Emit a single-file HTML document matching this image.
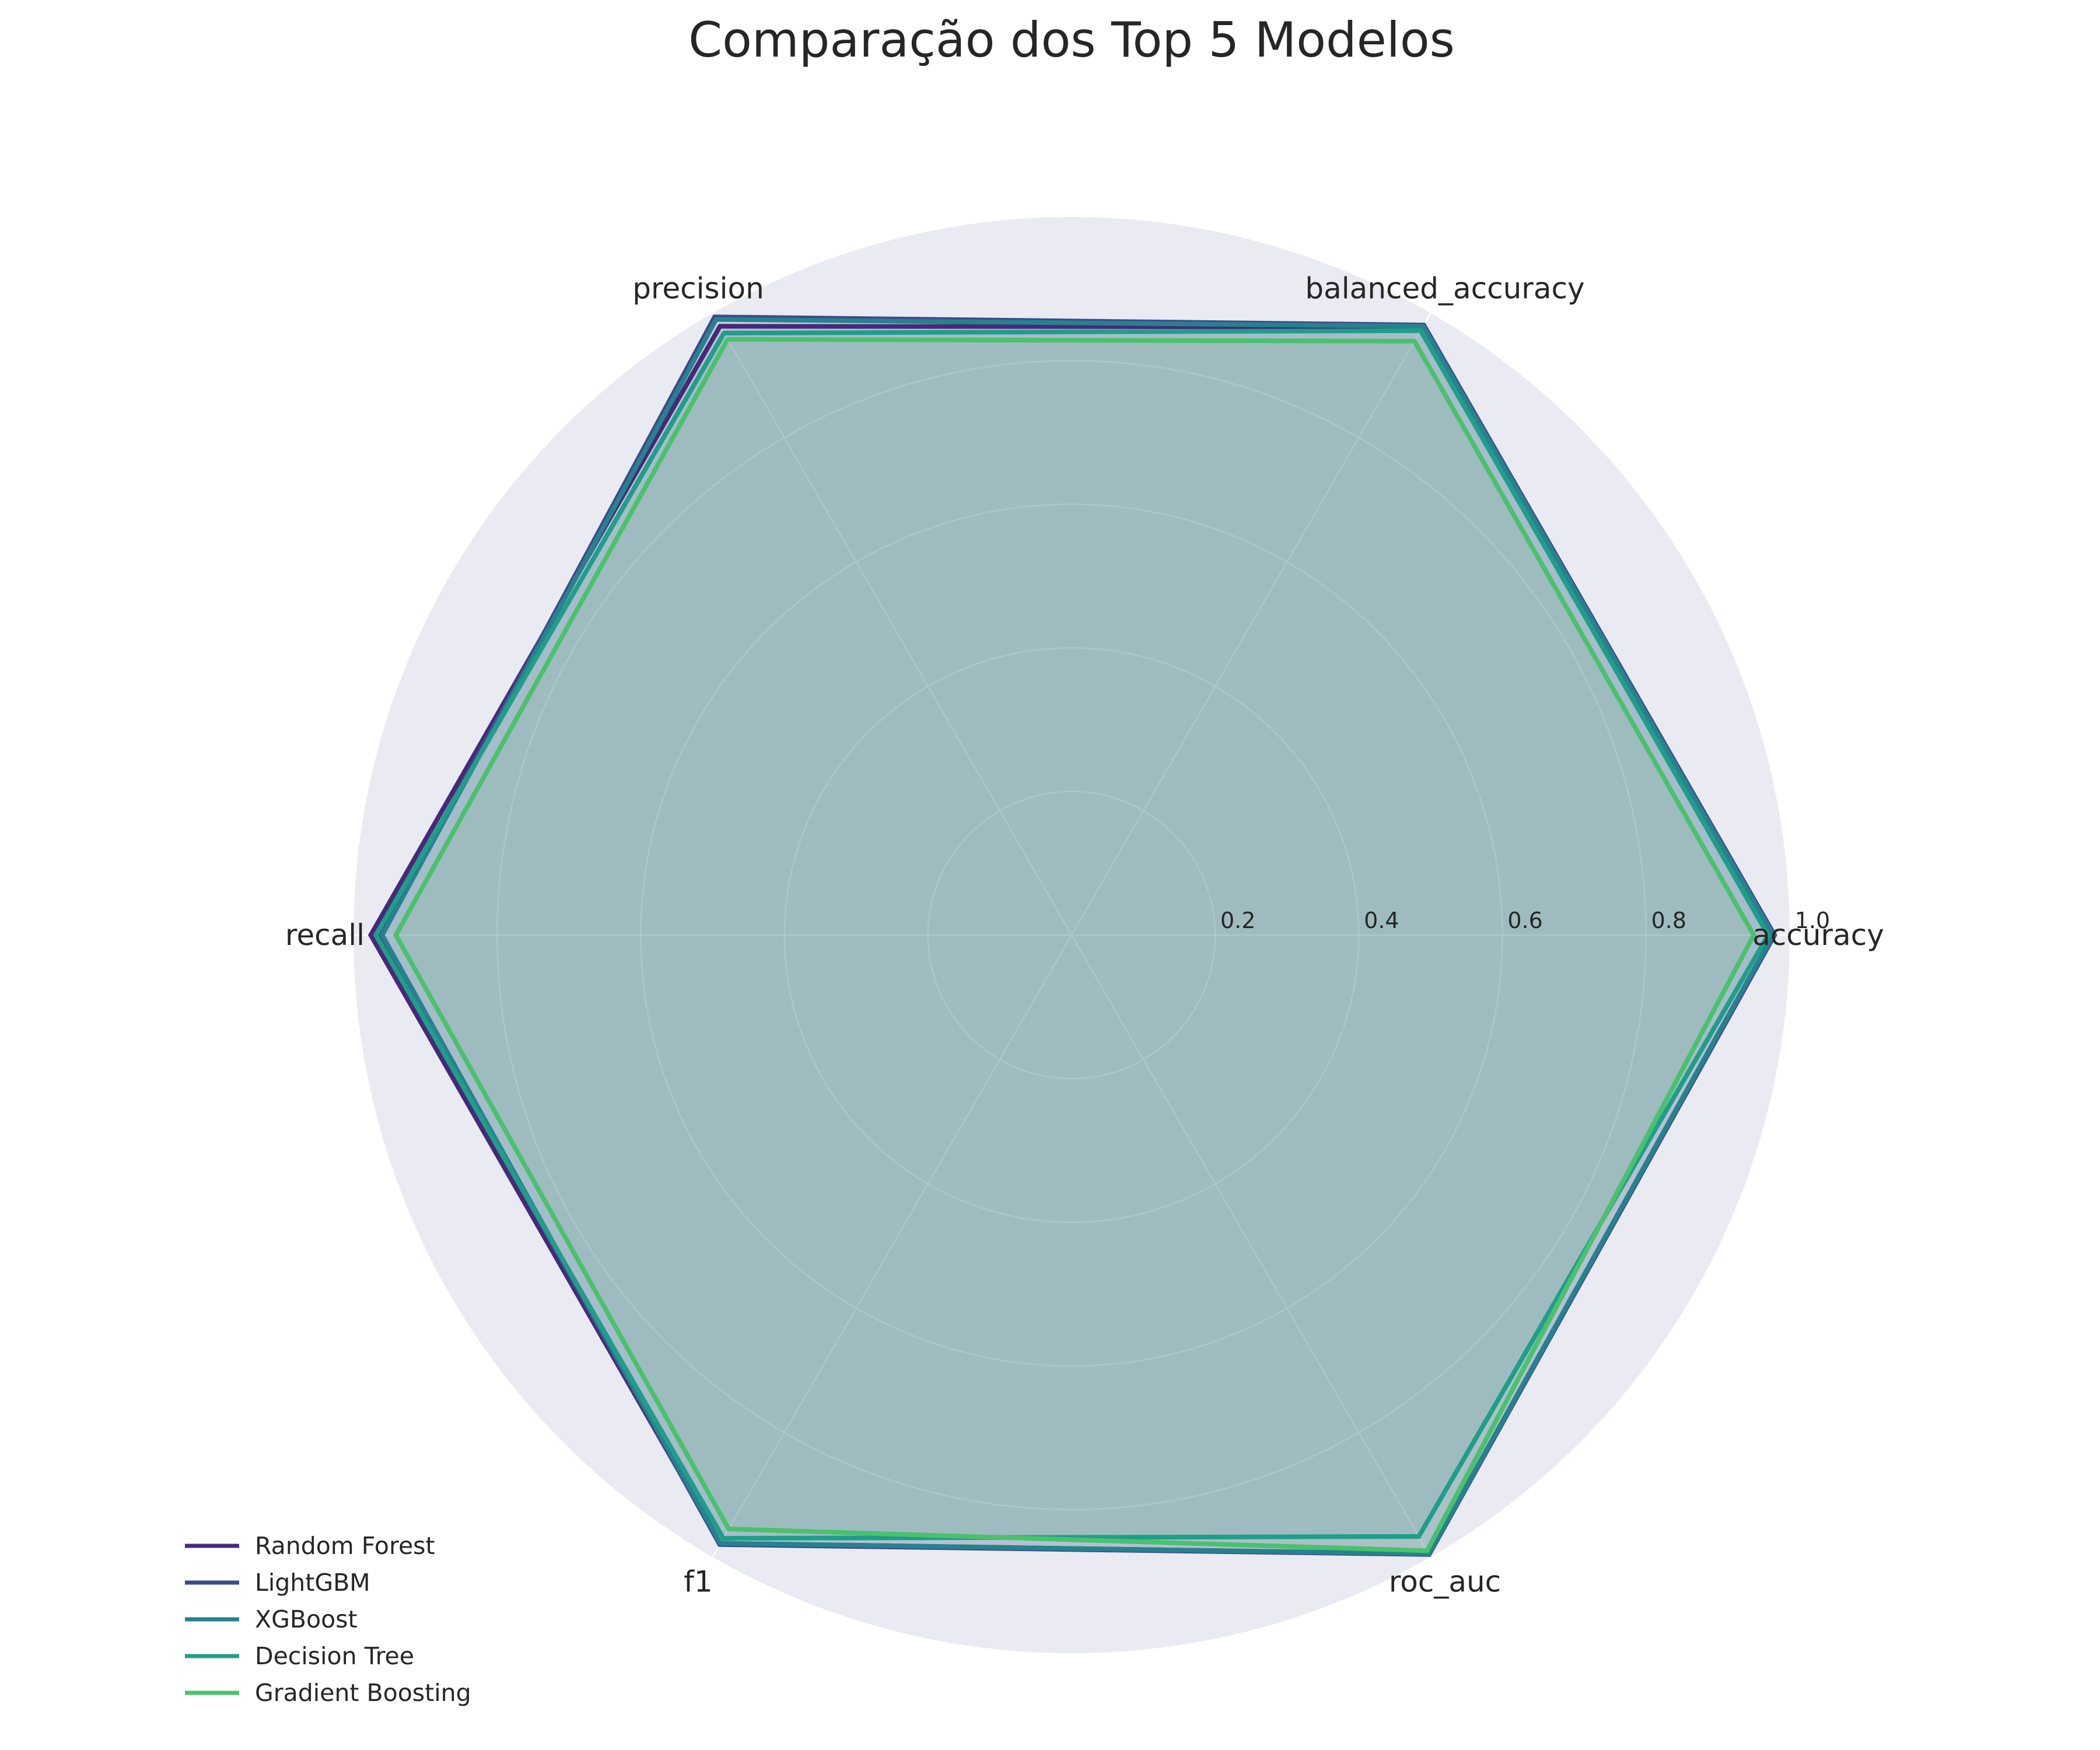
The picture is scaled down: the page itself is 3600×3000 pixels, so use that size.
<!DOCTYPE html>
<html><head><meta charset="utf-8"><style>
html,body{margin:0;padding:0;background:#fff;}
svg{display:block;font-family:"DejaVu Sans","Liberation Sans",sans-serif;}
</style></head><body>
<svg id="chart" width="3600" height="3000" viewBox="0 0 3600 3000" xmlns="http://www.w3.org/2000/svg">
<text x="1837" y="97" text-anchor="middle" font-size="83" fill="#262626">Comparação dos Top 5 Modelos</text>
<g id="grid"></g>
<g id="series"></g>
<g id="labels"></g>
<g id="legend"></g>
</svg>
<script>
const categories = ["accuracy","balanced_accuracy","precision","recall","f1","roc_auc"];
const models = ["Random Forest","LightGBM","XGBoost","Decision Tree","Gradient Boosting"];
const rfValues = [0.977,0.978,0.979,0.976,0.978,0.995];
const lgbmValues = [0.979,0.981,0.994,0.962,0.980,0.996];
const xgbValues = [0.977,0.979,0.990,0.960,0.978,0.995];
const dtValues = [0.970,0.972,0.968,0.969,0.970,0.967];
const gbValues = [0.950,0.955,0.958,0.941,0.955,0.990];
const tickValues = [0.2,0.4,0.6,0.8,1.0];
const tickLabels = ["0.2","0.4","0.6","0.8","1.0"];

const seriesValues = [rfValues,lgbmValues,xgbValues,dtValues,gbValues];
const colors = ["#482878","#3e4a89","#26828e","#1f9e89","#4ac16d"];
const NS="http://www.w3.org/2000/svg";
const cx=1837, cy=1603, R=1231;
function rScale(v){return v*R;}
function angle(i){return i*2*Math.PI/categories.length;}
function pt(i,v){const a=angle(i),r=rScale(v);return [cx+r*Math.cos(a), cy-r*Math.sin(a)];}
function mk(tag,attrs,parent){const e=document.createElementNS(NS,tag);for(const k in attrs)e.setAttribute(k,attrs[k]);parent.appendChild(e);return e;}

const grid=document.getElementById('grid');
const bg=mk('circle',{cx:cx,cy:cy,r:R,fill:'#eaeaf2'},grid);


tickValues.forEach((t,k)=>{
  if(t<1){
    const c=mk('circle',{cx:cx,cy:cy,r:rScale(t),fill:'none',stroke:'#ffffff','stroke-width':2.5},grid);
    
    
  }
});
categories.forEach((c,i)=>{
  const p=pt(i,1);
  const l=mk('line',{x1:cx,y1:cy,x2:p[0],y2:p[1],stroke:'#ffffff','stroke-width':2.5},grid);
  
  
});

const sg=document.getElementById('series');
seriesValues.forEach((vals,s)=>{
  const pts=vals.map((v,i)=>pt(i,v).map(n=>n.toFixed(1)).join(',')).join(' ');
  const f=mk('polygon',{points:pts,fill:colors[s],'fill-opacity':0.1,stroke:'none'},sg);
  
  
});
seriesValues.forEach((vals,s)=>{
  const pts=vals.map((v,i)=>pt(i,v).map(n=>n.toFixed(1)).join(',')).join(' ');
  const p=mk('polygon',{points:pts,fill:'none',stroke:colors[s],'stroke-width':8,'stroke-linejoin':'miter'},sg);
  
  
});

const lg=document.getElementById('labels');
tickValues.forEach((t,k)=>{
  const tx=mk('text',{x:cx+rScale(t)+39,y:cy-12,'text-anchor':'middle','font-size':38,fill:'#262626'},lg);
  tx.textContent=tickLabels[k];
  
  
});
categories.forEach((c,i)=>{
  const a=angle(i),r=1280;
  const tx=mk('text',{x:cx+r*Math.cos(a),y:cy-r*Math.sin(a)+17,'text-anchor':'middle','font-size':50,fill:'#262626'},lg);
  tx.textContent=c;
  
  
});

const leg=document.getElementById('legend');
models.forEach((m,k)=>{
  const y=2650+k*63;
  const ln=mk('line',{x1:317,y1:y,x2:410,y2:y,stroke:colors[k],'stroke-width':7},leg);
  
  
  const tx=mk('text',{x:437,y:y+14,'font-size':41,fill:'#262626'},leg);
  tx.textContent=m;
  
  
});
</script>
</body></html>
